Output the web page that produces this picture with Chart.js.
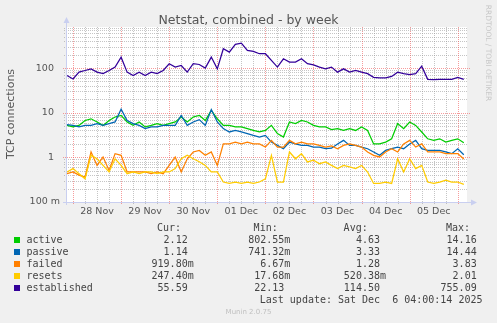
<!DOCTYPE html>
<html>
<head>
<meta charset="utf-8">
<title>Netstat, combined - by week</title>
<script src="https://cdn.jsdelivr.net/npm/chart.js@4.4.1/dist/chart.umd.min.js"></script>
<style>
  html, body { margin: 0; padding: 0; background: #f0f0f0; }
  #wrap { position: relative; width: 497px; height: 323px; overflow: hidden; font-family: "DejaVu Sans", sans-serif; color: #555; }
  #graph { position: absolute; left: 0; top: 0; }
  .t { position: absolute; white-space: pre; }
  #title { left: 0; width: 497px; top: 12px; text-align: center; font-size: 12.5px; line-height: 15px; }
  #ytitle { left: -54px; top: 107px; width: 130px; height: 14px; line-height: 14px; text-align: center; font-size: 11px; transform: rotate(-90deg); }
  #mark { left: 433px; top: 48px; width: 110px; height: 10px; line-height: 10px; text-align: center; font-size: 7.5px; color: #c8c8c8; transform: rotate(90deg); }
  .leg { font-family: "DejaVu Sans Mono", monospace; font-size: 10px; line-height: 12px; color: #444; }
  .sq { position: absolute; width: 6px; height: 6px; }
  #footer { left: 0; width: 497px; top: 307px; text-align: center; font-size: 7px; line-height: 10px; color: #c0c0c0; }
</style>
</head>
<body>
<div id="wrap">
  <canvas id="graph" width="497" height="323"></canvas>
  <div class="t" id="title">Netstat, combined - by week</div>
  <div class="t" id="ytitle">TCP connections</div>
  <div class="t" id="mark">RRDTOOL / TOBI OETIKER</div>
  <div class="t" id="footer">Munin 2.0.75</div>
</div>
<script>
// sample times in hours relative to 28 Nov 00:00, one every 3h
const hours = Array.from({ length: 67 }, (_, i) => -3 + 3 * i);

const dayLabels = ['28 Nov', '29 Nov', '30 Nov', '01 Dec', '02 Dec', '03 Dec', '04 Dec', '05 Dec'];
const yTicks = [0.1, 1, 10, 100];
const yTickLabels = ['100 m', '1\u2007', '10\u2007', '100\u2007'];

const names = ['active', 'passive', 'failed', 'resets', 'established'];
const colors = ['#00cc00', '#0066b3', '#ff8000', '#ffcc00', '#330099'];

const active = [5.2, 4.8, 5.2, 6.7, 7.3, 6.2, 5.2, 6.7, 8.0, 8.7,
  6.2, 5.2, 6.2, 4.8, 5.2, 5.7, 5.2, 5.7, 6.2, 8.0,
  6.2, 8.0, 8.7, 6.7, 11.3, 7.3, 5.2, 5.2, 4.8, 4.8,
  4.4, 4.0, 3.7, 4.0, 5.2, 3.4, 2.85, 6.2, 5.7, 6.7,
  6.2, 5.2, 4.8, 4.8, 4.2, 4.4, 4.0, 4.4, 4.0, 4.8,
  4.0, 2.0, 2.0, 2.2, 2.6, 5.7, 4.4, 6.2, 5.2, 3.7,
  2.6, 2.4, 2.6, 2.2, 2.4, 2.6, 2.12];
const passive = [5.4, 5.2, 4.8, 5.2, 5.2, 5.7, 5.2, 5.7, 6.2, 12.0,
  6.7, 5.7, 5.2, 4.4, 4.8, 4.8, 5.2, 5.2, 5.2, 8.7,
  5.2, 6.2, 7.0, 5.2, 11.8, 6.2, 4.4, 3.7, 4.0, 3.7,
  3.4, 3.1, 2.85, 3.1, 2.2, 1.85, 1.56, 2.2, 2.0, 1.85,
  1.85, 1.7, 1.7, 1.56, 1.6, 2.0, 2.4, 1.85, 1.85, 1.7,
  1.56, 1.32, 1.11, 1.43, 1.56, 1.7, 1.56, 2.0, 2.4, 1.56,
  1.43, 1.43, 1.43, 1.32, 1.21, 1.56, 1.14];
const failed = [0.43, 0.47, 0.40, 0.36, 1.32, 0.66, 1.02, 0.51, 1.21, 1.11,
  0.47, 0.47, 0.47, 0.47, 0.43, 0.47, 0.43, 0.66, 1.02, 0.47,
  0.93, 1.32, 1.43, 1.11, 1.32, 0.66, 2.0, 2.0, 2.2, 2.0,
  2.2, 2.0, 2.0, 1.7, 2.4, 1.7, 1.7, 2.4, 2.0, 2.2,
  2.0, 2.0, 1.85, 1.7, 1.8, 1.56, 1.85, 2.0, 1.85, 1.7,
  1.32, 1.11, 1.02, 1.32, 1.56, 1.32, 2.0, 2.4, 1.7, 2.0,
  1.32, 1.32, 1.32, 1.21, 1.21, 1.21, 0.9198];
const resets = [0.47, 0.56, 0.43, 0.33, 1.11, 0.93, 0.66, 0.47, 0.93, 0.66,
  0.43, 0.47, 0.43, 0.47, 0.47, 0.43, 0.47, 0.47, 0.56, 0.93,
  1.11, 0.93, 0.8, 0.66, 0.47, 0.47, 0.28, 0.26, 0.28, 0.26,
  0.28, 0.26, 0.28, 0.33, 1.11, 0.28, 0.28, 1.32, 0.93, 1.21,
  0.79, 0.86, 0.72, 0.79, 0.66, 0.56, 0.66, 0.61, 0.56, 0.66,
  0.47, 0.26, 0.26, 0.28, 0.26, 0.93, 0.47, 0.93, 0.56, 0.66,
  0.28, 0.26, 0.28, 0.31, 0.28, 0.28, 0.2474];
const established = [68, 57, 81, 88, 96, 81, 75, 88, 105, 175,
  81, 68, 81, 68, 81, 75, 88, 125, 105, 114,
  81, 125, 120, 100, 176, 96, 270, 227, 340, 360,
  248, 235, 209, 209, 148, 105, 161, 136, 136, 161,
  125, 118, 105, 96, 105, 81, 96, 81, 88, 81,
  75, 62, 60, 60, 65, 81, 75, 71, 75, 110,
  56, 55, 56, 56, 56, 62, 55.59];

const curText = ['2.12', '1.14', '919.80m', '247.40m', '55.59'];
const minText = ['802.55m', '741.32m', '6.67m', '17.68m', '22.13'];
const avgText = ['4.63', '3.33', '1.28', '520.38m', '114.50'];
const maxText = ['14.16', '14.44', '3.83', '2.01', '755.09'];
const lastUpdate = 'Last update: Sat Dec  6 04:00:14 2025';

const series = [active, passive, failed, resets, established];

// rrdtool style grid: grey dotted minor lines, red dotted major lines, arrowed axes
const muninGrid = {
  id: 'muninGrid',
  beforeDatasetsDraw(chart) {
    const { ctx, chartArea: a, scales: { x, y } } = chart;
    ctx.save();
    ctx.fillStyle = '#fff';
    ctx.fillRect(a.left, a.top, a.right - a.left, a.bottom - a.top);
    ctx.lineWidth = 1;
    ctx.setLineDash([1, 1]);
    const seg = (x0, y0, x1, y1, c) => {
      ctx.strokeStyle = c;
      ctx.beginPath();
      ctx.moveTo(x0, y0);
      ctx.lineTo(x1, y1);
      ctx.stroke();
    };
    const minor = 'rgba(150,150,150,0.55)';
    const major = 'rgba(240,90,90,0.6)';
    const majors = [];
    for (const d of [0.1, 1, 10, 100]) {
      for (let k = 1; k <= 9; k++) {
        const v = k * d;
        if (v > y.max) break;
        const py = Math.round(y.getPixelForValue(v)) + 0.5;
        if (k === 1) majors.push(py);
        else seg(a.left - 2, py, a.right, py, minor);
      }
    }
    const vmaj = [];
    for (let h = 0; h <= x.max; h += 6) {
      const px = Math.round(x.getPixelForValue(h)) + 0.5;
      if (h % 24 === 0) vmaj.push(px);
      else seg(px, a.top, px, a.bottom + 2, minor);
    }
    majors.forEach(py => seg(a.left - 3, py, a.right + 3, py, major));
    vmaj.forEach(px => seg(px, a.top, px, a.bottom + 3, major));
    ctx.restore();
  },
  afterDatasetsDraw(chart) {
    const { ctx, chartArea: a } = chart;
    const ax = '#c9cff0';
    ctx.save();
    ctx.strokeStyle = ax;
    ctx.fillStyle = ax;
    ctx.lineWidth = 1;
    const lx = a.left + 0.5, by = a.bottom + 0.5;
    ctx.beginPath();
    ctx.moveTo(lx, a.bottom + 3);
    ctx.lineTo(lx, a.top - 5);
    ctx.moveTo(a.left - 3, by);
    ctx.lineTo(a.right + 4, by);
    ctx.stroke();
    ctx.beginPath();
    ctx.moveTo(lx - 3, a.top - 4);
    ctx.lineTo(lx + 3, a.top - 4);
    ctx.lineTo(lx, a.top - 10);
    ctx.closePath();
    ctx.fill();
    ctx.beginPath();
    ctx.moveTo(a.right + 4, by - 3);
    ctx.lineTo(a.right + 4, by + 3);
    ctx.lineTo(a.right + 10, by);
    ctx.closePath();
    ctx.fill();
    ctx.restore();
  }
};

const tickFont = { family: 'DejaVu Sans', size: 9.5 };

new Chart(document.getElementById('graph'), {
  type: 'line',
  data: {
    datasets: series.map((arr, i) => ({
      label: names[i],
      data: arr.map((v, j) => ({ x: hours[j], y: v })),
      borderColor: colors[i],
      backgroundColor: colors[i],
      borderWidth: 1.25,
      pointRadius: 0,
      tension: 0,
      fill: false,
      order: series.length - 1 - i
    }))
  },
  options: {
    responsive: false,
    animation: false,
    layout: { padding: { top: 27, right: 30, left: 0, bottom: 0 } },
    plugins: { legend: { display: false }, tooltip: { enabled: false }, title: { display: false } },
    scales: {
      x: {
        type: 'linear',
        min: -3.5,
        max: 196.6,
        grid: { display: false, drawTicks: false },
        border: { display: false },
        afterBuildTicks(s) { s.ticks = dayLabels.map((_, k) => ({ value: 12 + 24 * k })); },
        afterFit(s) { s.height = 121; },
        ticks: {
          autoSkip: false, maxRotation: 0, padding: 4, color: '#555', font: tickFont,
          callback: (v, i) => dayLabels[i]
        }
      },
      y: {
        type: 'logarithmic',
        min: 0.1,
        max: 830,
        grid: { display: false, drawTicks: false },
        border: { display: false },
        afterBuildTicks(s) { s.ticks = yTicks.map(v => ({ value: v })); },
        afterFit(s) { s.width = 66; },
        ticks: {
          padding: 6, color: '#555', font: tickFont,
          callback: (v, i) => yTickLabels[i]
        }
      }
    }
  },
  plugins: [muninGrid]
});

// legend table under the graph
const wrap = document.getElementById('wrap');
function put(text, right, cy, cls) {
  const el = document.createElement('div');
  el.className = 't ' + cls;
  el.textContent = text;
  el.style.right = (497 - right) + 'px';
  el.style.top = (cy - 6) + 'px';
  wrap.appendChild(el);
}
function putLeft(text, left, cy) {
  const el = document.createElement('div');
  el.className = 't leg';
  el.textContent = text;
  el.style.left = left + 'px';
  el.style.top = (cy - 6) + 'px';
  wrap.appendChild(el);
}
const heads = ['Cur:', 'Min:', 'Avg:', 'Max:'];
const headRight = [181, 277.7, 367.7, 470];
const colRight = [193.7, 290.3, 386, 482.7];
heads.forEach((h, k) => put(h, headRight[k], 228.3, 'leg'));
const cols = [curText, minText, avgText, maxText];
names.forEach((n, i) => {
  const cy = 240 + 12 * i;
  const sq = document.createElement('div');
  sq.className = 'sq';
  sq.style.left = '14px';
  sq.style.top = (cy - 3) + 'px';
  sq.style.background = colors[i];
  wrap.appendChild(sq);
  putLeft(n, 26.5, cy);
  cols.forEach((c, k) => {
    const v = c[i];
    put(v.endsWith('m') ? v : v + ' ', colRight[k], cy, 'leg');
  });
});
put(lastUpdate, 482.5, 300, 'leg');
</script>
</body>
</html>
